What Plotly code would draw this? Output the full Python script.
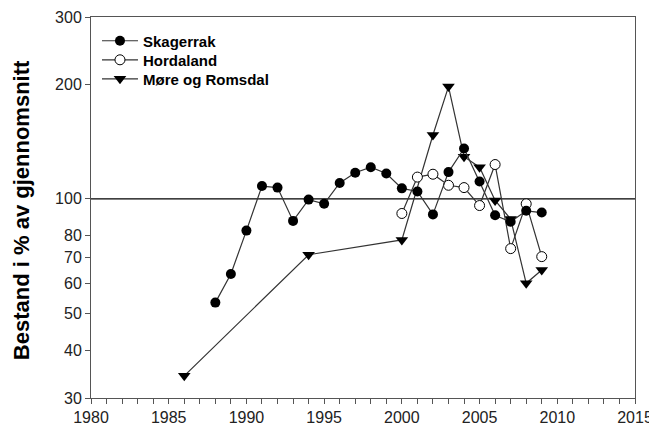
import math
import plotly.graph_objects as go

# ---- data ----
years_skagerrak = [1988, 1989, 1990, 1991, 1992, 1993, 1994, 1995, 1996, 1997, 1998,
                   1999, 2000, 2001, 2002, 2003, 2004, 2005, 2006, 2007, 2008, 2009]
skagerrak = [53.4, 63.5, 82.5, 108, 107, 87.5, 99.5, 97, 110, 117, 121,
             116.5, 106.5, 104.5, 91, 117.5, 135.5, 111, 90.5, 87, 93, 92]

years_hordaland = [2000, 2001, 2002, 2003, 2004, 2005, 2006, 2007, 2008, 2009]
hordaland = [91.5, 114, 116, 108.5, 107, 96, 123, 74, 97, 70.5]

years_more = [1986, 1994, 2000, 2002, 2003, 2004, 2005, 2006, 2007, 2008, 2009]
more_romsdal = [34.3, 71.3, 78, 147, 197, 129, 121, 99, 88.5, 60, 65]

ref_level = 100
x_range = [1980, 2015]
y_range = [30, 300]
y_tickvals = [30, 40, 50, 60, 70, 80, 100, 200, 300]
y_ticktext = ["30", "40", "50", "60", "70", "80", "100", "200", "300"]
x_tickvals = [1980, 1985, 1990, 1995, 2000, 2005, 2010, 2015]

FONT = "Liberation Sans, Arial, sans-serif"
LINE_COL = "#333333"
AX_COL = "#555555"

fig = go.Figure()

# reference line
fig.add_trace(go.Scatter(x=x_range, y=[ref_level, ref_level], mode="lines",
                         line=dict(color="black", width=1.2),
                         showlegend=False, hoverinfo="skip"))

fig.add_trace(go.Scatter(x=years_more, y=more_romsdal, name="Møre og Romsdal",
                         mode="lines+markers", legend="legend3",
                         line=dict(color=LINE_COL, width=1.2),
                         marker=dict(symbol="triangle-down", size=11, color="black",
                                     line=dict(color="black", width=0))))
fig.add_trace(go.Scatter(x=years_hordaland, y=hordaland, name="Hordaland",
                         mode="lines+markers", legend="legend2",
                         line=dict(color=LINE_COL, width=1.2),
                         marker=dict(symbol="circle", size=10, color="white",
                                     line=dict(color="black", width=1))))
fig.add_trace(go.Scatter(x=years_skagerrak, y=skagerrak, name="Skagerrak",
                         mode="lines+markers", legend="legend",
                         line=dict(color=LINE_COL, width=1.2),
                         marker=dict(symbol="circle", size=10, color="black",
                                     line=dict(color="black", width=0))))

def leg(ypos):
    return dict(x=0.011, y=ypos, xanchor="left", yanchor="middle",
                font=dict(family=FONT, size=15, color="black", weight="bold"),
                bgcolor="rgba(0,0,0,0)", itemwidth=36)

# the page places the figure 8 px from the top-left corner of the window
fig.update_layout(
    width=649, height=424,
    margin=dict(l=83, r=22, t=9, b=34, autoexpand=False),
    paper_bgcolor="white", plot_bgcolor="white",
    font=dict(family=FONT, size=16, color="#222222"),
    legend=leg(0.937), legend2=leg(0.887), legend3=leg(0.837),
    showlegend=True,
)

fig.update_xaxes(range=x_range, tickvals=x_tickvals, ticks="outside", ticklen=5,
                 tickcolor=AX_COL, showline=True, linecolor=AX_COL, linewidth=1,
                 mirror=True, showgrid=False, zeroline=False, automargin=False,
                 minor=dict(dtick=1, ticks="outside", ticklen=5, tickcolor=AX_COL))
fig.update_yaxes(type="log", range=[math.log10(y_range[0]), math.log10(y_range[1])],
                 tickvals=y_tickvals, ticktext=y_ticktext, ticks="outside", ticklen=5,
                 tickcolor=AX_COL, showline=True, linecolor=AX_COL, linewidth=1,
                 mirror=True, showgrid=False, zeroline=False, automargin=False)

fig.add_annotation(text="<b>Bestand i % av gjennomsnitt</b>", textangle=-90,
                   xref="paper", yref="paper", x=-0.1287, y=0.493,
                   xanchor="center", yanchor="middle", showarrow=False,
                   font=dict(family=FONT, size=22, color="black"))

fig.write_html("out.html")
